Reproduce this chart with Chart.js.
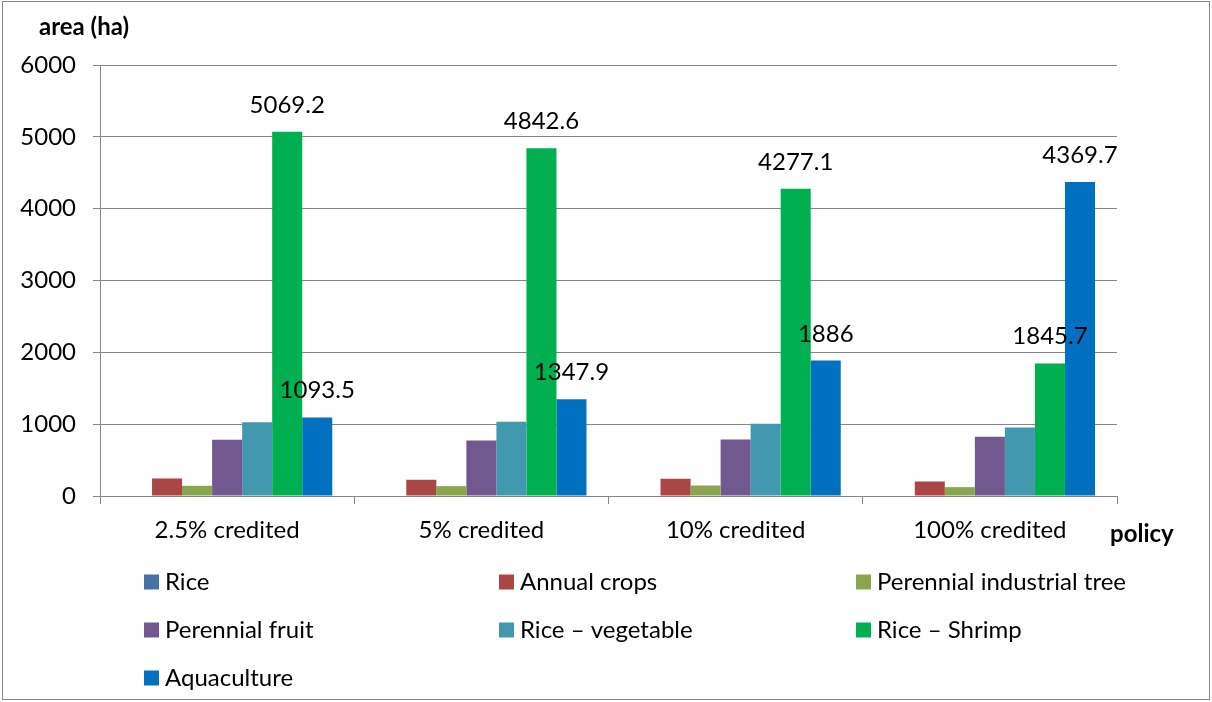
<!DOCTYPE html>
<html>
<head>
<meta charset="utf-8">
<script src="https://cdn.jsdelivr.net/npm/chart.js@4.4.0/dist/chart.umd.min.js"></script>
<style>
  html, body { margin: 0; padding: 0; background: #fff; }
  #wrap { width: 1212px; height: 702px; position: relative; }
</style>
</head>
<body>
<div id="wrap"><canvas id="grafico"></canvas></div>
<script>
const policies = ['2.5% credited', '5% credited', '10% credited', '100% credited'];
const yTicks = [0, 1000, 2000, 3000, 4000, 5000, 6000];

const rice = [0, 0, 0, 0];
const annualCrops = [244, 226, 240, 202];
const perennialIndustrial = [142, 137, 146, 123];
const perennialFruit = [782, 773, 787, 824];
const riceVegetable = [1028, 1033, 1005, 954];
const riceShrimp = [5069.2, 4842.6, 4277.1, 1845.7];
const aquaculture = [1093.5, 1347.9, 1886, 4369.7];

const FONT = 'Lato, "Noto Sans", sans-serif';
const GRID = '#868686';

const series = [
    { label: 'Rice', data: rice, color: '#4572A7' },
    { label: 'Annual crops', data: annualCrops, color: '#AA4643' },
    { label: 'Perennial industrial tree', data: perennialIndustrial, color: '#89A54E' },
    { label: 'Perennial fruit', data: perennialFruit, color: '#71588F' },
    { label: 'Rice \u2013 vegetable', data: riceVegetable, color: '#4198AF' },
    { label: 'Rice \u2013 Shrimp', data: riceShrimp, color: '#00B050', showValues: true },
    { label: 'Aquaculture', data: aquaculture, color: '#0070C0', showValues: true }
];

// value labels above the two largest series
const valueLabels = {
    id: 'valueLabels',
    afterDatasetsDraw(chart) {
        const { ctx } = chart;
        ctx.save();
        ctx.font = '24px ' + FONT;
        ctx.fillStyle = '#000';
        ctx.textAlign = 'center';
        ctx.textBaseline = 'alphabetic';
        chart.data.datasets.forEach((ds, i) => {
            if (!ds.showValues) return;
            chart.getDatasetMeta(i).data.forEach((bar, j) => {
                ctx.fillText(String(ds.data[j]), bar.x, bar.y - 19);
            });
        });
        ctx.restore();
    }
};

// axis captions, three-column legend and the outer frame
const decorations = {
    id: 'decorations',
    afterDraw(chart) {
        const { ctx } = chart;
        ctx.save();
        ctx.fillStyle = '#000';
        ctx.font = 'bold 24px ' + FONT;
        ctx.textBaseline = 'middle';
        ctx.textAlign = 'left';
        ctx.fillText('area (ha)', 39, 27);
        ctx.fillText('policy', 1110, 534);

        ctx.font = '24px ' + FONT;
        const colX = [144, 499, 856];
        const rowY = [582, 630, 678];
        chart.data.datasets.forEach((ds, i) => {
            const x = colX[i % 3];
            const y = rowY[Math.floor(i / 3)];
            ctx.fillStyle = ds.backgroundColor;
            ctx.fillRect(x, y - 7.5, 15, 15);
            ctx.fillStyle = '#000';
            ctx.fillText(ds.label, x + 21, y);
        });

        ctx.strokeStyle = GRID;
        ctx.lineWidth = 1;
        ctx.strokeRect(2.5, 1.5, 1207, 698);
        ctx.restore();
    }
};

new Chart(document.getElementById('grafico'), {
    type: 'bar',
    data: {
        labels: policies,
        datasets: series.map(s => ({
            label: s.label,
            data: s.data,
            backgroundColor: s.color,
            borderWidth: 0,
            showValues: !!s.showValues,
            categoryPercentage: 0.827,
            barPercentage: 1
        }))
    },
    options: {
        responsive: true,
        maintainAspectRatio: false,
        animation: false,
        layout: { padding: { left: 0, right: 95, top: 65, bottom: 146 } },
        plugins: {
            legend: { display: false },
            tooltip: { enabled: false }
        },
        scales: {
            x: {
                grid: {
                    offset: true,
                    drawOnChartArea: false,
                    drawTicks: true,
                    tickLength: 8,
                    color: GRID
                },
                border: { color: GRID, width: 1 },
                ticks: { color: '#000', font: { family: FONT, size: 24 }, padding: 12, maxRotation: 0 },
                afterFit(scale) { scale.height = 60; }
            },
            y: {
                min: 0,
                max: 6000,
                afterBuildTicks(scale) { scale.ticks = yTicks.map(v => ({ value: v })); },
                grid: { color: GRID, tickLength: 7, drawTicks: true },
                border: { color: GRID, width: 1 },
                ticks: {
                    color: '#000',
                    font: { family: FONT, size: 24 },
                    padding: 17,
                    callback: v => String(v)
                },
                afterFit(scale) { scale.width = 100; }
            }
        }
    },
    plugins: [valueLabels, decorations]
});
</script>
</body>
</html>
